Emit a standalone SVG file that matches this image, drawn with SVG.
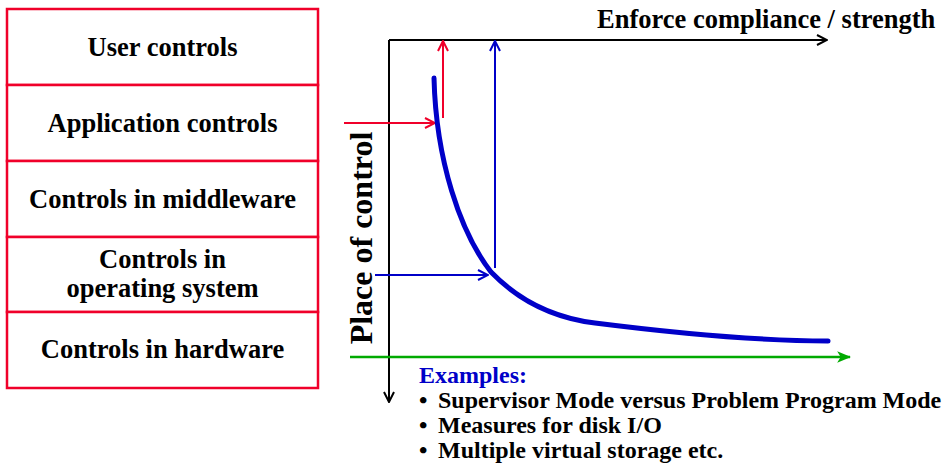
<svg xmlns="http://www.w3.org/2000/svg" width="945" height="463" viewBox="0 0 945 463">
<defs>
<style>
.box{fill:#fff;stroke:#f0002a;stroke-width:2.5}
.lbl{font-family:'Liberation Serif',serif;font-weight:bold;font-size:26.5px;fill:#000;text-anchor:middle}
.ex{font-family:'Liberation Serif',serif;font-weight:bold;font-size:24px;fill:#000}
.ax{stroke:#000;stroke-width:2;fill:none}
.red{stroke:#f0002a;stroke-width:2;fill:none}
.blu{stroke:#0000c8;stroke-width:2;fill:none}
.grn{stroke:#00aa00;stroke-width:2.5;fill:none}
</style>
<marker id="mk" viewBox="0 0 12 12" refX="11" refY="6" markerWidth="12" markerHeight="12" markerUnits="userSpaceOnUse" orient="auto"><path d="M1,1 L11,6 L1,11" fill="none" stroke="#000" stroke-width="2"/></marker>
<marker id="mr" viewBox="0 0 12 12" refX="11" refY="6" markerWidth="12" markerHeight="12" markerUnits="userSpaceOnUse" orient="auto"><path d="M1,1 L11,6 L1,11" fill="none" stroke="#f0002a" stroke-width="2"/></marker>
<marker id="mb" viewBox="0 0 12 12" refX="11" refY="6" markerWidth="12" markerHeight="12" markerUnits="userSpaceOnUse" orient="auto"><path d="M1,1 L11,6 L1,11" fill="none" stroke="#0000c8" stroke-width="2"/></marker>
<marker id="mg" viewBox="0 0 12 12" refX="11" refY="6" markerWidth="14" markerHeight="14" markerUnits="userSpaceOnUse" orient="auto"><path d="M0,1 L12,6 L0,11 L3,6 Z" fill="#00aa00"/></marker>
</defs>
<rect width="945" height="463" fill="#fff"/>
<g font-family="Liberation Serif, serif" font-weight="bold">
<g id="user"><rect class="box" x="7" y="9" width="311" height="76"/><text class="lbl" x="162.5" y="56">User controls</text></g>
<g id="application"><rect class="box" x="7" y="85" width="311" height="76"/><text class="lbl" x="162.5" y="132">Application controls</text></g>
<g id="middleware"><rect class="box" x="7" y="161" width="311" height="76"/><text class="lbl" x="162.5" y="208">Controls in middleware</text></g>
<g id="os"><rect class="box" x="7" y="237" width="311" height="75"/><text class="lbl" x="162.5" y="268">Controls in</text><text class="lbl" x="162.5" y="297">operating system</text></g>
<g id="hardware"><rect class="box" x="7" y="312" width="311" height="76"/><text class="lbl" x="162.5" y="358">Controls in hardware</text></g>
</g>
<g id="connectors">
<path class="ax" d="M389,40 L827,40" marker-end="url(#mk)"/>
<path class="ax" d="M389,40 L389,402" marker-end="url(#mk)"/>
<path class="red" d="M344,123 L435,123" marker-end="url(#mr)"/>
<path class="red" d="M443,118 L443,41" marker-end="url(#mr)"/>
<path class="blu" d="M375,275 L488,275" marker-end="url(#mb)"/>
<path class="blu" d="M495,268 L495,41" marker-end="url(#mb)"/>
<path class="grn" d="M350,357 L850,357" marker-end="url(#mg)"/>
<path d="M434,78 C436,160 460,232 491,272 C520,302 555,318 595,323 C690,335 760,341 828,341" fill="none" stroke="#0000c8" stroke-width="5" stroke-linecap="round" stroke-linejoin="round"/>
</g>
<g id="labels" font-family="Liberation Serif, serif" font-weight="bold">
<text class="ex" x="597" y="28" style="font-size:26.5px">Enforce compliance / strength</text>
<text class="ex" transform="translate(372,238) rotate(-90)" text-anchor="middle" style="font-size:32px">Place of control</text>
<text class="ex" x="419" y="383" style="fill:#0000c8">Examples:</text>
<text class="ex" x="419" y="408">•</text><text class="ex" x="438" y="408">Supervisor Mode versus Problem Program Mode</text>
<text class="ex" x="419" y="433">•</text><text class="ex" x="438" y="433">Measures for disk I/O</text>
<text class="ex" x="419" y="458">•</text><text class="ex" x="438" y="458">Multiple virtual storage etc.</text>
</g>
</svg>
